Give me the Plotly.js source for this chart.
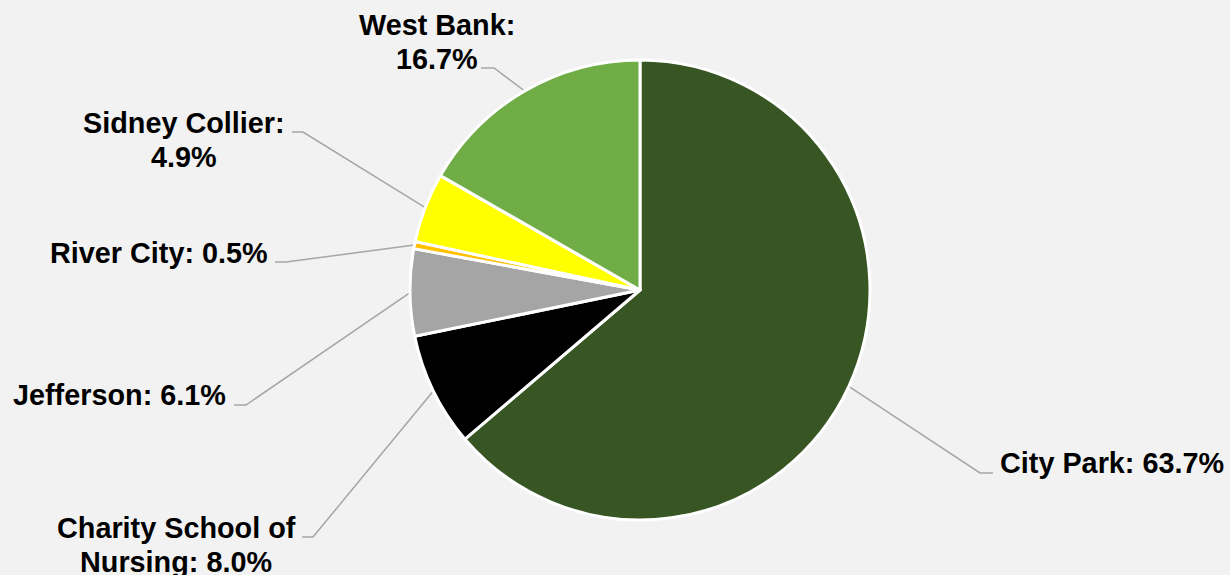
<!DOCTYPE html>
<html>
<head>
<meta charset="utf-8">
<script src="https://cdn.plot.ly/plotly-3.0.1.min.js"></script>
<style>
html,body{margin:0;padding:0;background:#f2f2f2;}
#chart{width:1230px;height:575px;}
</style>
</head>
<body>
<div id="chart"></div>
<script>
// ---- data ----
var campuses = ["City Park", "Charity School of Nursing", "Jefferson", "River City", "Sidney Collier", "West Bank"];
var shares = [63.7, 8.0, 6.1, 0.5, 4.9, 16.7];
var labelLines = [
  ["City Park: 63.7%"],
  ["Charity School of", "Nursing: 8.0%"],
  ["Jefferson: 6.1%"],
  ["River City: 0.5%"],
  ["Sidney Collier:", "4.9%"],
  ["West Bank:", "16.7%"]
];
var colors = ["#375623", "#000000", "#a5a5a5", "#ffc000", "#ffff00", "#70ad47"];

// ---- layout geometry (pixels) ----
var W = 1230, H = 575;
var cx = 640, cy = 290, R = 230;
// label placement: anchor x, first-line centre y, alignment, elbow and end of leader
var labelPos = [
  {x: 998, y: 463, anchor: "left",   elbow: [980, 473], end: [993, 473]},
  {x: 176, y: 528, anchor: "center", elbow: [313, 537], end: [302, 537]},
  {x: 228, y: 395, anchor: "right",  elbow: [246, 405], end: [234, 405]},
  {x: 270, y: 253, anchor: "right",  elbow: [286, 262], end: [275, 262]},
  {x: 184, y: 123, anchor: "center", elbow: [303, 132], end: [292, 132]},
  {x: 437, y: 25,  anchor: "center", elbow: [494, 68],  end: [481, 68]}
];
var lineGap = 34;
var font = {family: "Arial, 'Liberation Sans', sans-serif", size: 28.8, color: "#000000", weight: "bold"};

var total = shares.reduce(function(a, b){ return a + b; }, 0);

var pie = {
  type: "pie",
  labels: campuses,
  values: shares,
  sort: false,
  direction: "clockwise",
  rotation: 0,
  textinfo: "none",
  hoverinfo: "label+percent",
  marker: {colors: colors, line: {color: "#ffffff", width: 3}},
  domain: {x: [(cx - R) / W, (cx + R) / W], y: [(H - cy - R) / H, (H - cy + R) / H]},
  showlegend: false
};

var lx = [], ly = [];
var annotations = [];
var cum = 0;
for (var i = 0; i < shares.length; i++) {
  var mid = (cum + shares[i] / 2) / total;
  cum += shares[i];
  var th = 2 * Math.PI * mid;
  var px = cx + R * Math.sin(th), py = cy - R * Math.cos(th);
  var p = labelPos[i];
  lx.push(px, p.elbow[0], p.end[0], null);
  ly.push(py, p.elbow[1], p.end[1], null);
  for (var k = 0; k < labelLines[i].length; k++) {
    annotations.push({
      xref: "x", yref: "y",
      x: p.x, y: p.y + k * lineGap,
      text: labelLines[i][k],
      showarrow: false,
      xanchor: p.anchor, yanchor: "middle",
      font: font
    });
  }
}

var leaders = {
  type: "scatter", mode: "lines",
  x: lx, y: ly,
  line: {color: "#a6a6a6", width: 1.5},
  hoverinfo: "skip", showlegend: false
};

var layout = {
  width: W, height: H,
  margin: {l: 0, r: 0, t: 0, b: 0},
  paper_bgcolor: "#f2f2f2",
  plot_bgcolor: "rgba(0,0,0,0)",
  xaxis: {range: [0, W], visible: false, fixedrange: true},
  yaxis: {range: [H, 0], visible: false, fixedrange: true},
  annotations: annotations,
  showlegend: false
};

Plotly.newPlot("chart", [leaders, pie], layout, {displayModeBar: false, staticPlot: true});
</script>
</body>
</html>
